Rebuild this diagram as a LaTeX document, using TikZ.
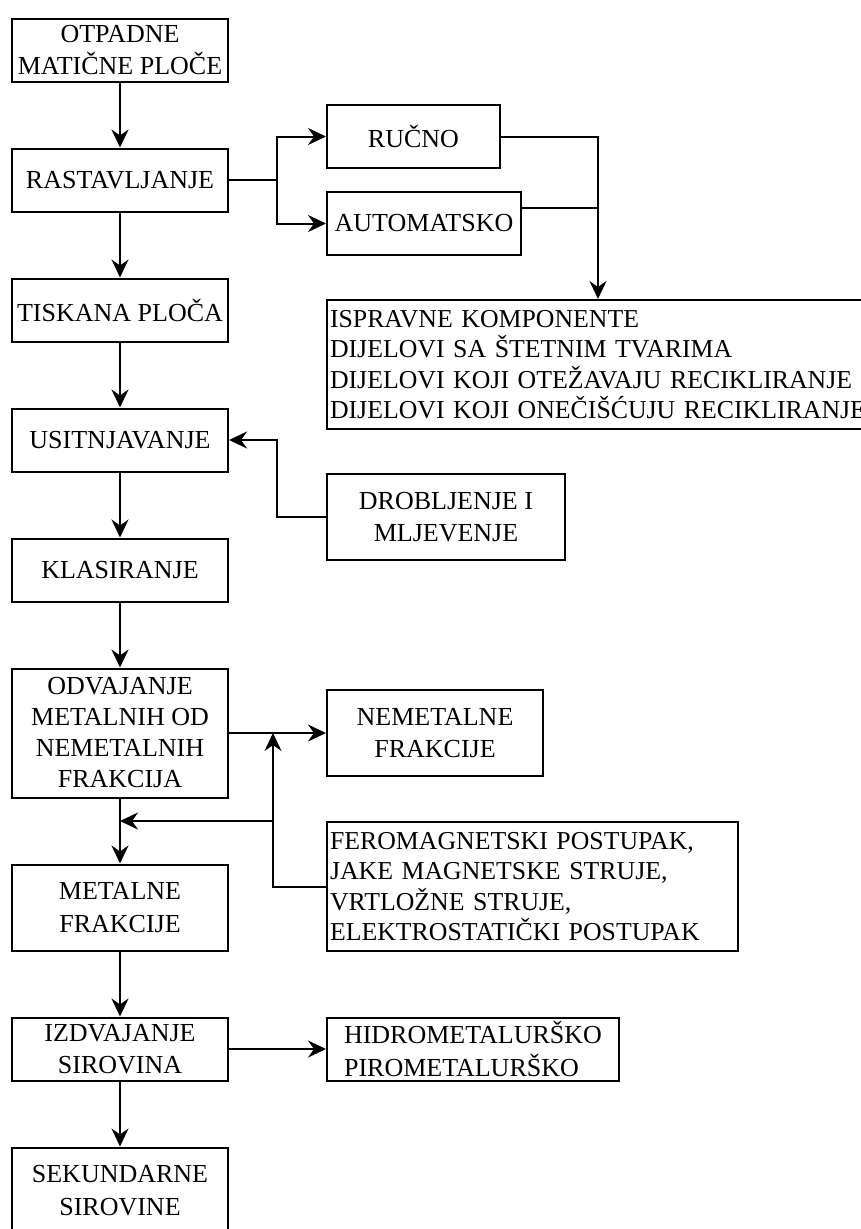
\documentclass[tikz,border=0pt]{standalone}
\usepackage{fontspec}
\setmainfont{Liberation Serif}
\usetikzlibrary{arrows.meta,positioning}

\begin{document}
\begin{tikzpicture}[
  x=1pt, y=1pt, line width=2pt,
  stage/.style={draw, line width=2pt, minimum width=216pt, minimum height=63pt, inner sep=2pt, align=center, font=\fontsize{26}{32.5}\selectfont},
  stagetall/.style={stage, minimum height=86pt},
  stagebig/.style={stage, minimum height=129pt, font=\fontsize{26}{31}\selectfont},
  listbox/.style={stage, minimum height=129pt, align=left, inner xsep=3pt, font=\fontsize{25.8}{30.5}\selectfont},
  flow/.style={-{Stealth[length=18pt, width=17pt, inset=6pt]}},
]
  \useasboundingbox (0,0) rectangle (861,-1229);
  \clip (0,0) rectangle (861,-1229);

  \node[stage] (otpadne) at (120,-50) {OTPADNE\\MATIČNE PLOČE};
  \node[stage, below=65pt of otpadne] (rastav) {RASTAVLJANJE};
  \node[stage, below=65pt of rastav] (tiskana) {TISKANA PLOČA};
  \node[stage, below=65pt of tiskana] (usitnj) {USITNJAVANJE};
  \node[stage, below=65pt of usitnj] (klasir) {KLASIRANJE};
  \node[stagebig, below=65pt of klasir] (odvaj) {ODVAJANJE\\METALNIH OD\\NEMETALNIH\\FRAKCIJA};
  \node[stagetall, below=65pt of odvaj] (metalne) {METALNE\\FRAKCIJE};
  \node[stage, below=65pt of metalne] (izdvaj) {IZDVAJANJE\\SIROVINA};
  \node[stagetall, below=65pt of izdvaj] (sekund) {SEKUNDARNE\\SIROVINE};

  \node[stage, minimum width=173pt, right=97pt of rastav, yshift=43.5pt] (rucno) {RUČNO};
  \node[stage, minimum width=194pt, right=97pt of rastav, yshift=-43.5pt] (automat) {AUTOMATSKO};
  \node[listbox, text width=560pt, below right=43pt and 0pt of automat.south west] (dijelovi) {ISPRAVNE KOMPONENTE\\DIJELOVI SA ŠTETNIM TVARIMA\\DIJELOVI KOJI OTEŽAVAJU RECIKLIRANJE\\DIJELOVI KOJI ONEČIŠĆUJU RECIKLIRANJE};
  \node[stagetall, minimum width=238pt, below right=43pt and 0pt of dijelovi.south west] (drobl) {DROBLJENJE I\\MLJEVENJE};
  \node[stagetall, right=97pt of odvaj] (nemet) {NEMETALNE\\FRAKCIJE};
  \node[listbox, text width=405pt, below right=44pt and 0pt of nemet.south west] (fero) {FEROMAGNETSKI POSTUPAK,\\JAKE MAGNETSKE STRUJE,\\VRTLOŽNE STRUJE,\\ELEKTROSTATIČKI POSTUPAK};
  \node[stage, minimum width=292pt, align=left, right=97pt of izdvaj] (hidro) {HIDROMETALURŠKO\\PIROMETALURŠKO};

  \coordinate (split) at ([xshift=48pt]rastav.east);
  \coordinate (merge) at ([xshift=272pt]dijelovi.north west);
  \coordinate (autoout) at ([yshift=16pt]automat.east);
  \coordinate (crush) at ([xshift=-49pt]drobl.west);
  \coordinate (sep) at ([xshift=-53pt]fero.west);

  \draw[flow] (otpadne) -- (rastav);
  \draw[flow] (rastav) -- (tiskana);
  \draw[flow] (tiskana) -- (usitnj);
  \draw[flow] (usitnj) -- (klasir);
  \draw[flow] (klasir) -- (odvaj);
  \draw[flow] (odvaj) -- (metalne);
  \draw[flow] (metalne) -- (izdvaj);
  \draw[flow] (izdvaj) -- (sekund);

  \draw (rastav.east) -- (split);
  \draw[flow] (split) |- (rucno.west);
  \draw[flow] (split) |- (automat.west);
  \draw[flow] (rucno.east) -| (merge);
  \draw (autoout) -- (autoout -| merge);
  \draw[flow] (drobl.west) -- (crush) |- (usitnj.east);
  \draw[flow] (odvaj) -- (nemet);
  \draw[flow] (fero.west) -- (sep) -- (sep |- odvaj.east);
  \draw[flow] (sep |- fero.north) -- (odvaj.south |- fero.north);
  \draw[flow] (izdvaj) -- (hidro);
\end{tikzpicture}
\end{document}
